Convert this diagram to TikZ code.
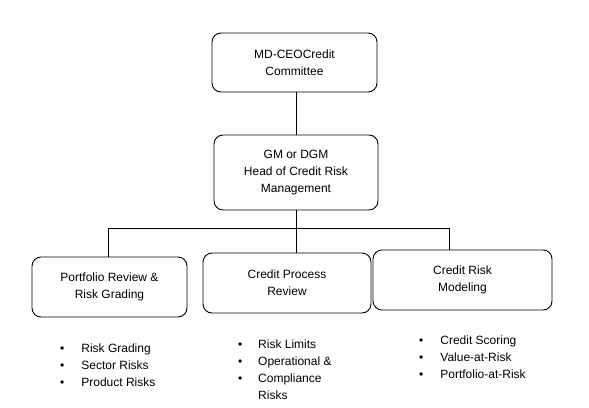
\documentclass[tikz,border=0pt]{standalone}
\usepackage{fontspec}
\setmainfont{Liberation Sans}
\begin{document}
\begin{tikzpicture}[x=1pt,y=-1pt,
  box/.style={draw, rounded corners=9pt, line width=0.9pt, align=center,
    font=\fontsize{12}{17}\selectfont, inner sep=0pt},
  lst/.style={anchor=base west, inner sep=0pt, font=\fontsize{12}{17}\selectfont},
  conn/.style={line width=0.9pt}]
\useasboundingbox (0,0) rectangle (589,407);
\node[box, minimum width=165pt, minimum height=59pt] (top) at (294.5,62.5) {MD-CEOCredit\\Committee};
\node[box, minimum width=164pt, minimum height=75pt] (mid) at (296,172.5) {GM or DGM\\Head of Credit Risk\\Management};
\node[box, minimum width=155pt, minimum height=60pt] (left) at (109.5,287) {Portfolio Review \&\\Risk Grading};
\node[box, minimum width=168pt, minimum height=60pt] (cen) at (287,283) {Credit Process\\Review};
\node[box, minimum width=179pt, minimum height=60pt] (right) at (462.5,280) {Credit Risk\\Modeling};
\coordinate (bl) at (108,228);
\coordinate (br) at (449,228);
\draw[conn] (mid.north) -- (mid.north |- top.south);
\draw[conn] (mid.south) -- (mid.south |- cen.north);
\draw[conn] (left.north -| bl) -- (bl) -- (br) -- (br |- right.north);
\node[lst] (l1) at (60,352) {\begin{tabular}[t]{@{}l@{\hspace{17pt}}l@{}}•&Risk Grading\\•&Sector Risks\\•&Product Risks\end{tabular}};
\node[lst] (l2) at (238,348.5) {\begin{tabular}[t]{@{}l@{\hspace{15.8pt}}l@{}}•&Risk Limits\\•&Operational \&\\•&Compliance\\&Risks\end{tabular}};
\node[lst] (l3) at (419,344.5) {\begin{tabular}[t]{@{}l@{\hspace{17pt}}l@{}}•&Credit Scoring\\•&Value-at-Risk\\•&Portfolio-at-Risk\end{tabular}};
\end{tikzpicture}
\end{document}
